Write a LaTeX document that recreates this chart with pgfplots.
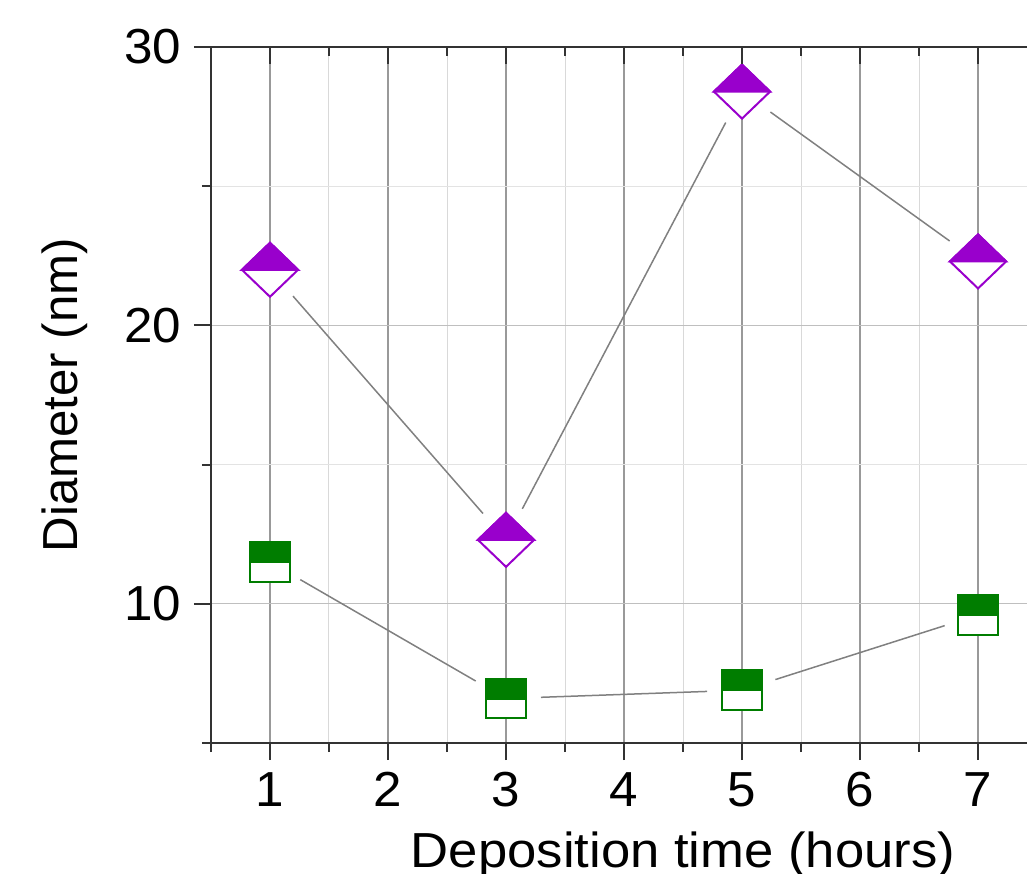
\documentclass[border=0pt]{standalone}
\usepackage{fontspec}
\setmainfont{Liberation Sans}
\usepackage{pgfplots}
\pgfplotsset{compat=1.18}

\definecolor{dpurple}{RGB}{153,0,204}
\definecolor{dgreen}{RGB}{0,125,0}

% half filled marks: upper half coloured, lower half white
\pgfdeclareplotmark{hdiam}{%
  \pgfpathmoveto{\pgfqpoint{0pt}{\pgfplotmarksize}}%
  \pgfpathlineto{\pgfqpoint{1.04\pgfplotmarksize}{0pt}}%
  \pgfpathlineto{\pgfqpoint{0pt}{-\pgfplotmarksize}}%
  \pgfpathlineto{\pgfqpoint{-1.04\pgfplotmarksize}{0pt}}%
  \pgfpathclose
  \pgfusepathqfillstroke
  \pgfscope
  \pgfsetfillcolor{dpurple}%
  \pgfpathmoveto{\pgfqpoint{0pt}{\pgfplotmarksize}}%
  \pgfpathlineto{\pgfqpoint{1.04\pgfplotmarksize}{0pt}}%
  \pgfpathlineto{\pgfqpoint{-1.04\pgfplotmarksize}{0pt}}%
  \pgfpathclose
  \pgfusepathqfillstroke
  \endpgfscope
}
\pgfdeclareplotmark{hsq}{%
  \pgfpathrectangle{\pgfqpoint{-\pgfplotmarksize}{-\pgfplotmarksize}}{\pgfqpoint{2\pgfplotmarksize}{2\pgfplotmarksize}}%
  \pgfusepathqfillstroke
  \pgfscope
  \pgfsetfillcolor{dgreen}%
  \pgfpathrectangle{\pgfqpoint{-\pgfplotmarksize}{0pt}}{\pgfqpoint{2\pgfplotmarksize}{\pgfplotmarksize}}%
  \pgfusepathqfillstroke
  \endpgfscope
}

\pgfplotsset{
  frame/.style={
    scale only axis, width=9.44cm, height=6.96cm,
    xmin=0.5, xmax=8.5, ymin=5, ymax=30,
    xtick={1,...,7}, minor xtick={0.5,1.5,...,8.5},
    ytick={10,20,30}, minor ytick={5,15,25},
    major tick length=0.17cm, minor tick length=0.09cm,
    axis line style={line width=0.02cm, black!80},
    tick style={line width=0.02cm, black!80},
  },
}

\begin{document}
\begin{tikzpicture}
\begin{axis}[
  frame,
  axis x line*=bottom, axis y line*=left,
  tick align=outside,
  grid=both,
  major x grid style={gray!80, line width=0.02cm},
  minor x grid style={gray!30, line width=0.01cm},
  major y grid style={gray!50, line width=0.012cm},
  minor y grid style={gray!22, line width=0.01cm},
  ticklabel style={font=\fontsize{14}{16}\selectfont, xscale=1.04},
  /pgf/number format/assume math mode=true,
  xlabel={Deposition time (hours)},
  ylabel={Diameter (nm)},
  label style={font=\fontsize{14}{16}\selectfont},
  xlabel style={xscale=1.07},
  ylabel shift=0.12cm,
]
% connecting lines (Origin style, gap at the markers)
\addplot[gray, line width=0.015cm, shorten <=0.35cm, shorten >=0.35cm] coordinates {(1,22.0) (3,12.3)};
\addplot[gray, line width=0.015cm, shorten <=0.35cm, shorten >=0.35cm] coordinates {(3,12.3) (5,28.4)};
\addplot[gray, line width=0.015cm, shorten <=0.35cm, shorten >=0.35cm] coordinates {(5,28.4) (7,22.3)};
\addplot[gray, line width=0.015cm, shorten <=0.35cm, shorten >=0.35cm] coordinates {(1,11.5) (3,6.6)};
\addplot[gray, line width=0.015cm, shorten <=0.35cm, shorten >=0.35cm] coordinates {(3,6.6) (5,6.9)};
\addplot[gray, line width=0.015cm, shorten <=0.35cm, shorten >=0.35cm] coordinates {(5,6.9) (7,9.6)};
% markers
\addplot[only marks, mark=hdiam, mark size=0.27cm,
  mark options={draw=dpurple, fill=white, line width=0.02cm}]
  coordinates {(1,22.0) (3,12.3) (5,28.4) (7,22.3)};
\addplot[only marks, mark=hsq, mark size=0.198cm,
  mark options={draw=dgreen, fill=white, line width=0.022cm}]
  coordinates {(1,11.5) (3,6.6) (5,6.9) (7,9.6)};
\coordinate (bbsw) at (axis cs:-1.288,0.33);
\coordinate (bbne) at (axis cs:7.415,31.69);
\end{axis}
\begin{axis}[
  frame,
  axis x line*=top, axis y line*=right,
  tick align=inside,
  xticklabels={}, yticklabels={},
]
\end{axis}
\pgfresetboundingbox
\useasboundingbox (bbsw) rectangle (bbne);
\end{tikzpicture}
\end{document}
